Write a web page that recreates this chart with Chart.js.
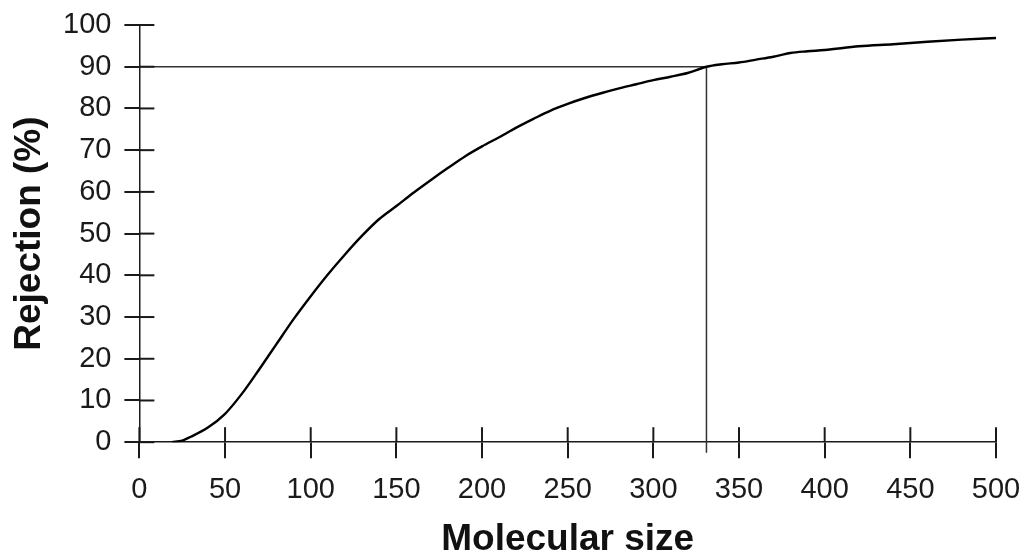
<!DOCTYPE html>
<html>
<head>
<meta charset="utf-8">
<script src="https://cdn.jsdelivr.net/npm/chart.js@4.4.1/dist/chart.umd.min.js"></script>
<style>
  html, body { margin: 0; padding: 0; background: #fff; }
  #wrap { width: 1021px; height: 558px; }
</style>
</head>
<body>
<div id="wrap"><canvas id="c" width="1021" height="558"></canvas></div>
<script>
// Data
const molecularSize = [19, 25, 30, 40, 50, 60, 70, 80, 90, 100, 110, 120, 130, 140, 150, 160, 170, 180, 190, 200,
  210, 220, 230, 240, 250, 260, 270, 280, 290, 300, 310, 320, 331, 340, 350, 360, 370, 380, 390, 400,
  420, 440, 460, 480, 500];
const rejection = [0, 0.4, 1.3, 3.5, 6.8, 11.7, 17.5, 23.5, 29.5, 35.0, 40.2, 45.0, 49.5, 53.5, 56.6, 59.8, 62.8, 65.7, 68.5, 70.9,
  73.1, 75.4, 77.5, 79.5, 81.1, 82.5, 83.7, 84.8, 85.8, 86.8, 87.6, 88.5, 90.0, 90.6, 91.0, 91.7, 92.4, 93.3, 93.7, 94.0,
  94.9, 95.4, 96.0, 96.5, 96.9];
// Cut-off reference lines (90% rejection at ~331)
const cutoffX = [0, 331, 331, 331];
const cutoffY = [90, 90, 0, -2.5];
const xTicks = [0, 50, 100, 150, 200, 250, 300, 350, 400, 450, 500];
const yTicks = [0, 10, 20, 30, 40, 50, 60, 70, 80, 90, 100];

const curvePts = molecularSize.map((x, i) => ({ x: x, y: rejection[i] }));
const cutoffPts = cutoffX.map((x, i) => ({ x: x, y: cutoffY[i] }));

const FONT = "'Liberation Sans', Arial, Helvetica, sans-serif";
const INK = '#1a1a1a';

const innerTicks = {
  id: 'innerTicks',
  afterDraw(chart) {
    const ctx = chart.ctx;
    const xs = chart.scales.x, ys = chart.scales.y;
    ctx.save();
    ctx.strokeStyle = INK;
    ctx.lineWidth = 2;
    xs.ticks.forEach((t, i) => {
      const px = xs.getPixelForTick(i);
      ctx.beginPath();
      ctx.moveTo(px, ys.bottom);
      ctx.lineTo(px, ys.bottom - 15);
      ctx.stroke();
    });
    ys.ticks.forEach((t, i) => {
      const py = ys.getPixelForTick(i);
      ctx.beginPath();
      ctx.moveTo(xs.left, py);
      ctx.lineTo(xs.left + 15, py);
      ctx.stroke();
    });
    ctx.restore();
  }
};

new Chart(document.getElementById('c'), {
  type: 'scatter',
  data: {
    datasets: [
      {
        data: curvePts,
        showLine: true,
        borderColor: '#000',
        borderWidth: 2.4,
        pointRadius: 0,
        cubicInterpolationMode: 'monotone',
        fill: false
      },
      {
        data: cutoffPts,
        showLine: true,
        borderColor: '#333',
        borderWidth: 1.5,
        pointRadius: 0,
        tension: 0,
        clip: false,
        fill: false
      }
    ]
  },
  options: {
    responsive: false,
    animation: false,
    devicePixelRatio: 1,
    layout: { padding: { top: 25, right: 25, bottom: 0, left: 3 } },
    plugins: { legend: { display: false }, tooltip: { enabled: false } },
    scales: {
      x: {
        type: 'linear',
        min: 0, max: 500,
        afterBuildTicks: (s) => { s.ticks = xTicks.map(v => ({ value: v })); },
        afterFit: (s) => { s.paddingLeft = 0; s.paddingRight = 0; },
        grid: { drawOnChartArea: false, drawTicks: true, tickLength: 16, color: INK, lineWidth: 2 },
        border: { display: true, color: INK, width: 1.5 },
        ticks: { color: INK, font: { family: FONT, size: 29 }, padding: 14, maxRotation: 0 },
        title: {
          display: true, text: 'Molecular size', color: '#111',
          font: { family: FONT, size: 37, weight: 'bold', lineHeight: 1 },
          padding: { top: 0, bottom: 0 }
        }
      },
      y: {
        type: 'linear',
        min: 0, max: 100,
        afterBuildTicks: (s) => { s.ticks = yTicks.map(v => ({ value: v })); },
        afterFit: (s) => { s.paddingTop = 0; s.paddingBottom = 0; },
        grid: { drawOnChartArea: false, drawTicks: true, tickLength: 15, color: INK, lineWidth: 2 },
        border: { display: true, color: INK, width: 1.5 },
        ticks: { color: INK, font: { family: FONT, size: 29 }, padding: 13 },
        title: {
          display: true, text: 'Rejection (%)', color: '#111',
          font: { family: FONT, size: 37, weight: 'bold', lineHeight: 1 },
          padding: { top: 8, bottom: 2 }
        }
      }
    }
  },
  plugins: [innerTicks]
});
</script>
</body>
</html>
